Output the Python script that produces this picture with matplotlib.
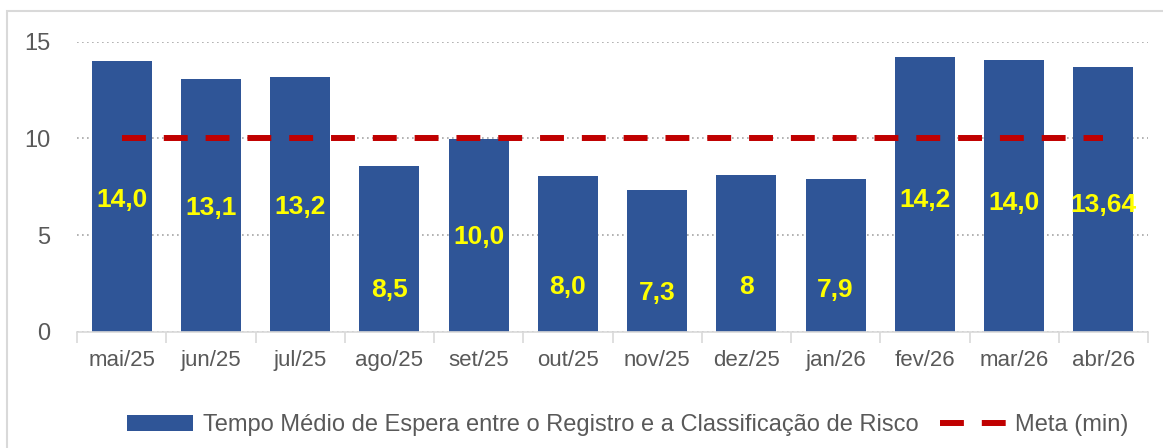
import matplotlib
matplotlib.use("Agg")
import matplotlib.pyplot as plt
from matplotlib.patches import Rectangle
import numpy as np

meses = ["mai/25", "jun/25", "jul/25", "ago/25", "set/25", "out/25",
         "nov/25", "dez/25", "jan/26", "fev/26", "mar/26", "abr/26"]
tempo = [14.0, 13.07, 13.18, 8.57, 9.96, 8.05, 7.33, 8.1, 7.9, 14.2, 14.05, 13.7]
rotulos = ["14,0", "13,1", "13,2", "8,5", "10,0", "8,0", "7,3", "8", "7,9",
           "14,2", "14,0", "13,64"]
rotulo_y = [6.8, 6.4, 6.45, 2.15, 4.9, 2.3, 2.0, 2.3, 2.15, 6.8, 6.65, 6.55]
meta = [10] * 12

AZUL = "#2F5597"
VERMELHO = "#C00000"
CINZA = "#595959"

plt.rcParams["font.family"] = ["Liberation Sans", "DejaVu Sans"]

fig = plt.figure(figsize=(11.63, 4.48), dpi=100)
fig.patches.append(Rectangle((7 / 1163, -0.1), 1.2, (448 - 11) / 448 + 0.1,
                             transform=fig.transFigure, fill=False,
                             edgecolor="#D9D9D9", linewidth=1.5))

ax = fig.add_axes([77 / 1163, 116.3 / 448, (1148 - 77) / 1163, 290 / 448])
x = np.arange(len(meses))
barras = ax.bar(x, tempo, width=0.67, color=AZUL, zorder=2,
                label="Tempo Médio de Espera entre o Registro e a Classificação de Risco")
linha, = ax.plot(x, meta, color=VERMELHO, linewidth=4.3, dashes=(4, 3),
                 solid_capstyle="butt", dash_capstyle="butt", zorder=3, label="Meta (min)")

for xi, txt, yi in zip(x, rotulos, rotulo_y):
    ax.text(xi, yi, txt, ha="center", va="center", color="#FFFF00",
            fontsize=19, fontweight="bold", zorder=4)

ax.set_xlim(-0.5, 11.5)
ax.set_ylim(0, 15)
ax.set_yticks([0, 5, 10, 15])
ax.set_xticks(x)
ax.set_xticklabels(meses)
ax.set_xticks(np.arange(-0.5, 12, 1), minor=True)
ax.tick_params(axis="x", which="major", length=0, pad=13, labelsize=16, labelcolor=CINZA)
ax.tick_params(axis="x", which="minor", length=8, color="#D9D9D9", width=1.2)
ax.tick_params(axis="y", length=0, pad=19, labelsize=17, labelcolor=CINZA)
ax.yaxis.grid(True, linestyle=(0, (1, 2)), color="#A6A6A6", linewidth=1.2, zorder=0)
ax.set_axisbelow(True)
for s in ["top", "left", "right"]:
    ax.spines[s].set_visible(False)
ax.spines["bottom"].set_color("#D9D9D9")
ax.spines["bottom"].set_linewidth(1.2)

leg = fig.legend([barras, linha], [barras.get_label(), linha.get_label()],
                 loc="center", bbox_to_anchor=(628 / 1163, (448 - 425) / 448),
                 ncol=2, frameon=False, fontsize=17, handlelength=2.8,
                 handleheight=0.65, columnspacing=0.9, handletextpad=0.4)
for t in leg.get_texts():
    t.set_color(CINZA)

fig.savefig("out.png", dpi=100)
